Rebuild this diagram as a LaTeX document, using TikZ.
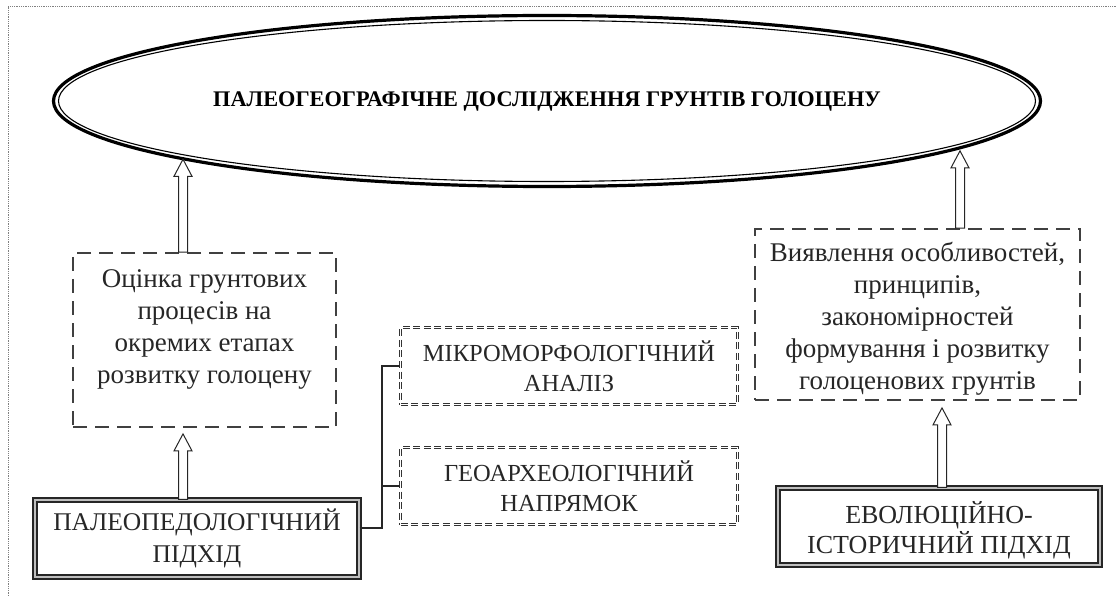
\documentclass[tikz,border=0pt]{standalone}
\usepackage{fontspec}
\setmainfont{Liberation Serif}
\usetikzlibrary{shapes.geometric,calc}
\newcommand\blockup[2]{%
  \draw[blockarr] let \p1=#1, \p2=#2 in
    (\x1-4.5pt,\y1) -- (\x1-4.5pt,\y2-17pt) -- (\x1-9pt,\y2-17pt) -- (\x1,\y2)
    -- (\x1+9pt,\y2-17pt) -- (\x1+4.5pt,\y2-17pt) -- (\x1+4.5pt,\y1) -- cycle;}
\begin{document}
\begin{tikzpicture}[x=1pt,y=-1pt,
  txt/.style={align=center, text=black!85, font=\fontsize{27}{32}\selectfont, inner sep=0pt},
  captxt/.style={align=center, text=black!85, font=\fontsize{24.5}{30}\selectfont},
  dashbox/.style={draw=black!75, line width=1.8pt, dash pattern=on 14pt off 8pt, rectangle, inner sep=0pt},
  ddbox/.style={draw=black!80, line width=1.2pt, double=white, double distance=1.5pt,
     dash pattern=on 7pt off 3.6pt, rectangle, inner sep=0pt, minimum width=337pt, minimum height=77pt},
  framebox/.style={draw=black!85, line width=1.4pt, double=black!25, double distance=2.5pt,
     rectangle, inner sep=0pt, minimum width=324pt, minimum height=77pt},
  blockarr/.style={draw=black!85, line width=1pt, fill=white, line join=miter},
  link/.style={draw=black!85, line width=1.2pt}]
\useasboundingbox (0,0) rectangle (1117,596);
% page frame
\draw[densely dotted, black!50, line width=0.8pt] (8,596) -- (8,6) -- (1117,6);
% top ellipse
\node[ellipse, draw, line width=3.2pt, minimum width=987pt, minimum height=171pt, inner sep=0pt,
      font=\bfseries\fontsize{22.3}{26}\selectfont] (top) at (547,101)
      {ПАЛЕОГЕОГРАФІЧНЕ ДОСЛІДЖЕННЯ ГРУНТІВ ГОЛОЦЕНУ};
\draw[line width=1.1pt] (top.center) ellipse [x radius=488.5pt, y radius=80.5pt];
% dashed boxes
\node[dashbox, minimum width=263pt, minimum height=174pt] (lb) at (204.5,340) {};
\node[txt] (lbt) at (204.5,329) {Оцінка грунтових\\процесів на\\окремих етапах\\розвитку голоцену};
\node[dashbox, minimum width=325pt, minimum height=171pt] (rb) at (917.5,314.5) {};
\node[txt] (rbt) at (917.5,318.5)
  {Виявлення особливостей,\\принципів,\\закономірностей\\формування і розвитку\\голоценових грунтів};
% double dashed boxes
\node[ddbox, captxt] (mi) at (569,366) {МІКРОМОРФОЛОГІЧНИЙ\\АНАЛІЗ};
\node[ddbox, captxt] (ge) at (569,486) {ГЕОАРХЕОЛОГІЧНИЙ\\НАПРЯМОК};
% framed boxes
\node[framebox, captxt, font=\fontsize{25.5}{32}\selectfont] (pp) at (197,538.5) {ПАЛЕОПЕДОЛОГІЧНИЙ\\ПІДХІД};
\node[framebox, minimum width=322pt] (ev) at (939,526.5) {};
\node[captxt, font=\fontsize{26}{30}\selectfont, inner sep=0pt] (evt) at (939,530) {ЕВОЛЮЦІЙНО-\\ІСТОРИЧНИЙ ПІДХІД};
% connectors
\coordinate (j) at (382,528);
\draw[link] (pp.east |- j) -- (j) |- (mi.west);
\draw[link] (j |- ge.west) -- (ge.west);
% block arrows
\coordinate (xl) at (183,0);
\coordinate (xr) at (960,0);
\coordinate (xe) at (942,0);
\blockup{(xl |- lb.north)}{(xl |- top.189)}
\blockup{(xr |- rb.north)}{(xr |- top.353.6)}
\blockup{(xl |- pp.north)}{($(xl |- lb.south)+(0,6)$)}
\blockup{(xe |- ev.north)}{($(xe |- rb.south)+(0,7)$)}
\end{tikzpicture}
\end{document}
